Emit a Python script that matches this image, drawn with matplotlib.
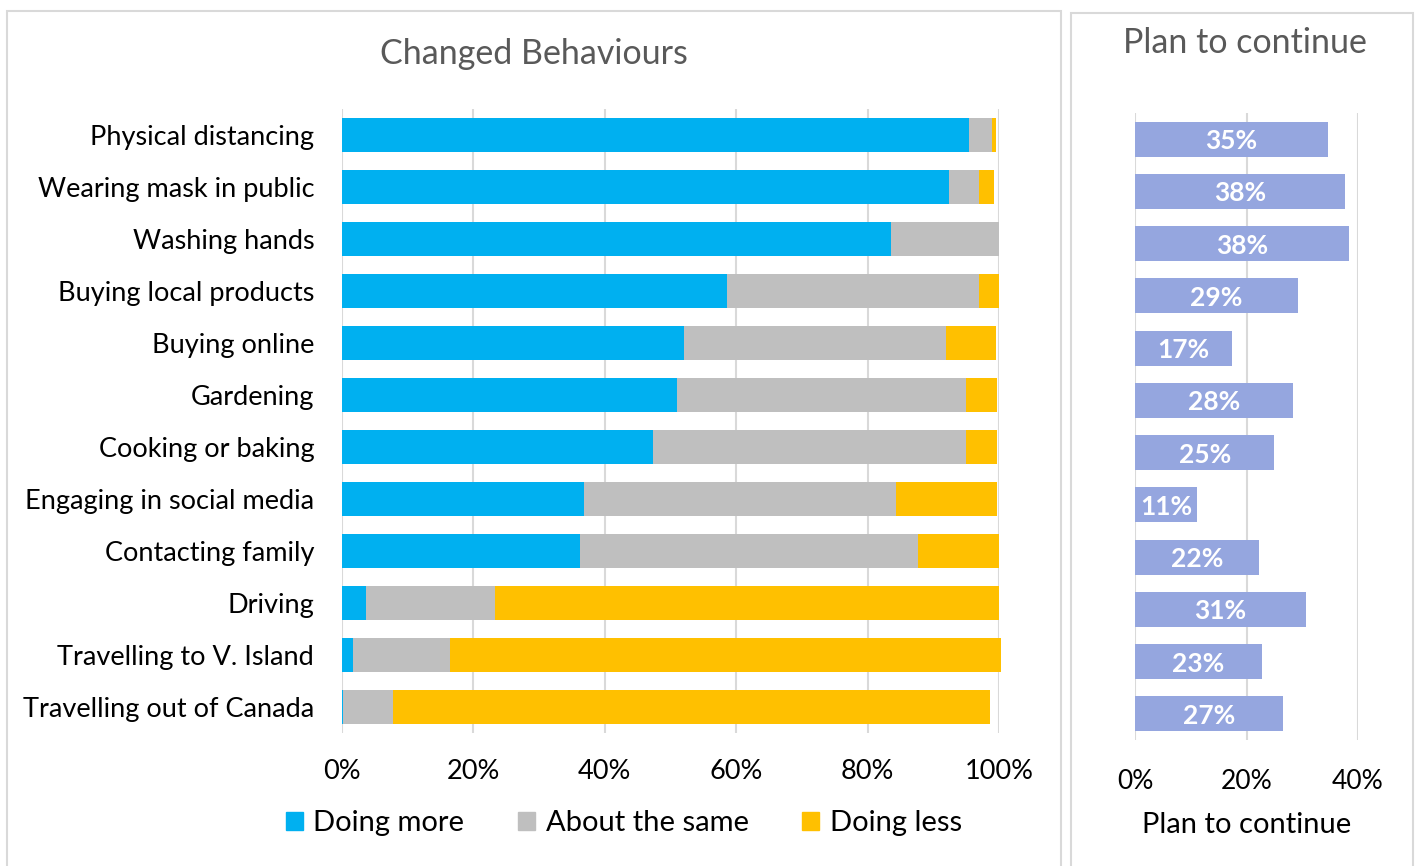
import matplotlib.pyplot as plt
from matplotlib.patches import Rectangle, Patch
from matplotlib.ticker import PercentFormatter

plt.rcParams['font.family'] = ['Lato', 'DejaVu Sans']

# behaviours, top to bottom
behaviours = ["Physical distancing", "Wearing mask in public", "Washing hands",
              "Buying local products", "Buying online", "Gardening",
              "Cooking or baking", "Engaging in social media", "Contacting family",
              "Driving", "Travelling to V. Island", "Travelling out of Canada"]

# share of respondents (%)
doing_more = [95.4, 92.4, 83.6, 58.6, 52.0, 51.0, 47.3, 36.8, 36.3, 3.7, 1.6, 0.1]
about_same = [3.5, 4.5, 16.4, 38.3, 40.0, 44.0, 47.7, 47.5, 51.3, 19.6, 14.9, 7.6]
doing_less = [0.6, 2.4, 0.0, 3.1, 7.5, 4.7, 4.7, 15.4, 12.4, 76.7, 83.8, 90.9]

# share that plan to keep the change (%)
plan_continue = [34.6, 37.7, 38.3, 29.3, 17.4, 28.3, 25.0, 11.1, 22.2, 30.6, 22.7, 26.6]

BLUE, GREY, GOLD, LAV = "#00B0F0", "#BFBFBF", "#FFC000", "#95A6DF"
GRID = "#D9D9D9"

fig = plt.figure(figsize=(14.16, 8.66), dpi=100)
W, H = 1416, 866

def fx(px):
    return px / W

def fy(py):
    return 1 - py / H

# chart boxes
fig.patches.append(Rectangle((fx(7), fy(880)), fx(1061 - 7), fy(11) - fy(880),
                             transform=fig.transFigure, fill=False,
                             edgecolor=GRID, linewidth=1.5))
fig.patches.append(Rectangle((fx(1071), fy(880)), fx(1413 - 1071), fy(13) - fy(880),
                             transform=fig.transFigure, fill=False,
                             edgecolor=GRID, linewidth=1.5))

# ---- left: stacked bars ----
ax = fig.add_axes([fx(342), fy(733), fx(999 - 342), fy(109) - fy(733)])
y = list(range(len(behaviours)))
left2 = [a for a in doing_more]
left3 = [a + b for a, b in zip(doing_more, about_same)]
ax.barh(y, doing_more, height=0.65, color=BLUE, label="Doing more", zorder=3)
ax.barh(y, about_same, left=left2, height=0.65, color=GREY, label="About the same", zorder=3)
ax.barh(y, doing_less, left=left3, height=0.65, color=GOLD, label="Doing less", zorder=3)
ax.set_xlim(0, 100)
ax.set_ylim(len(behaviours) - 0.5, -0.5)
ax.set_xticks([0, 20, 40, 60, 80, 100])
ax.xaxis.set_major_formatter(PercentFormatter(decimals=0))
ax.set_yticks(y)
ax.set_yticklabels(behaviours)
ax.tick_params(axis='y', length=0, pad=20, labelsize=19.5)
ax.tick_params(axis='x', length=0, pad=19, labelsize=19.5)
ax.grid(axis='x', color=GRID, linewidth=1.5, zorder=0)
for s in ax.spines.values():
    s.set_visible(False)
for b in ax.patches:
    b.set_clip_on(False)

fig.text(fx(534), fy(54), "Changed Behaviours", ha='center', va='center',
         fontsize=24.5, color="#595959")

fig.legend(handles=[Patch(color=BLUE), Patch(color=GREY), Patch(color=GOLD)],
           labels=["Doing more", "About the same", "Doing less"],
           loc='center', bbox_to_anchor=(fx(624), fy(823)), ncol=3, frameon=False,
           fontsize=21, handlelength=0.58, handleheight=0.58, handletextpad=0.35,
           columnspacing=1.85)

# ---- right: plan to continue ----
ax2 = fig.add_axes([fx(1135), fy(740), fx(1358 - 1135), fy(113) - fy(740)])
bars = ax2.barh(y, plan_continue, height=0.67, color=LAV, zorder=3)
for rect, v in zip(bars, plan_continue):
    t = ax2.text(rect.get_width() / 2, rect.get_y() + rect.get_height() / 2 + 0.04,
                 f"{v:.0f}%", ha='center', va='center', color='white',
                 fontsize=19, fontweight='bold', zorder=4)
    t.set_clip_path(rect)
ax2.set_xlim(0, 40)
ax2.set_ylim(len(behaviours) - 0.5, -0.5)
ax2.set_xticks([0, 20, 40])
ax2.xaxis.set_major_formatter(PercentFormatter(decimals=0))
ax2.set_yticks([])
ax2.tick_params(axis='x', length=0, pad=21, labelsize=19)
ax2.grid(axis='x', color=GRID, linewidth=1.5, zorder=0)
for s in ax2.spines.values():
    s.set_visible(False)
ax2.set_xlabel("Plan to continue", fontsize=21, labelpad=13)

fig.text(fx(1245), fy(43), "Plan to continue", ha='center', va='center',
         fontsize=24.5, color="#595959")

fig.savefig("out.png", dpi=100)
